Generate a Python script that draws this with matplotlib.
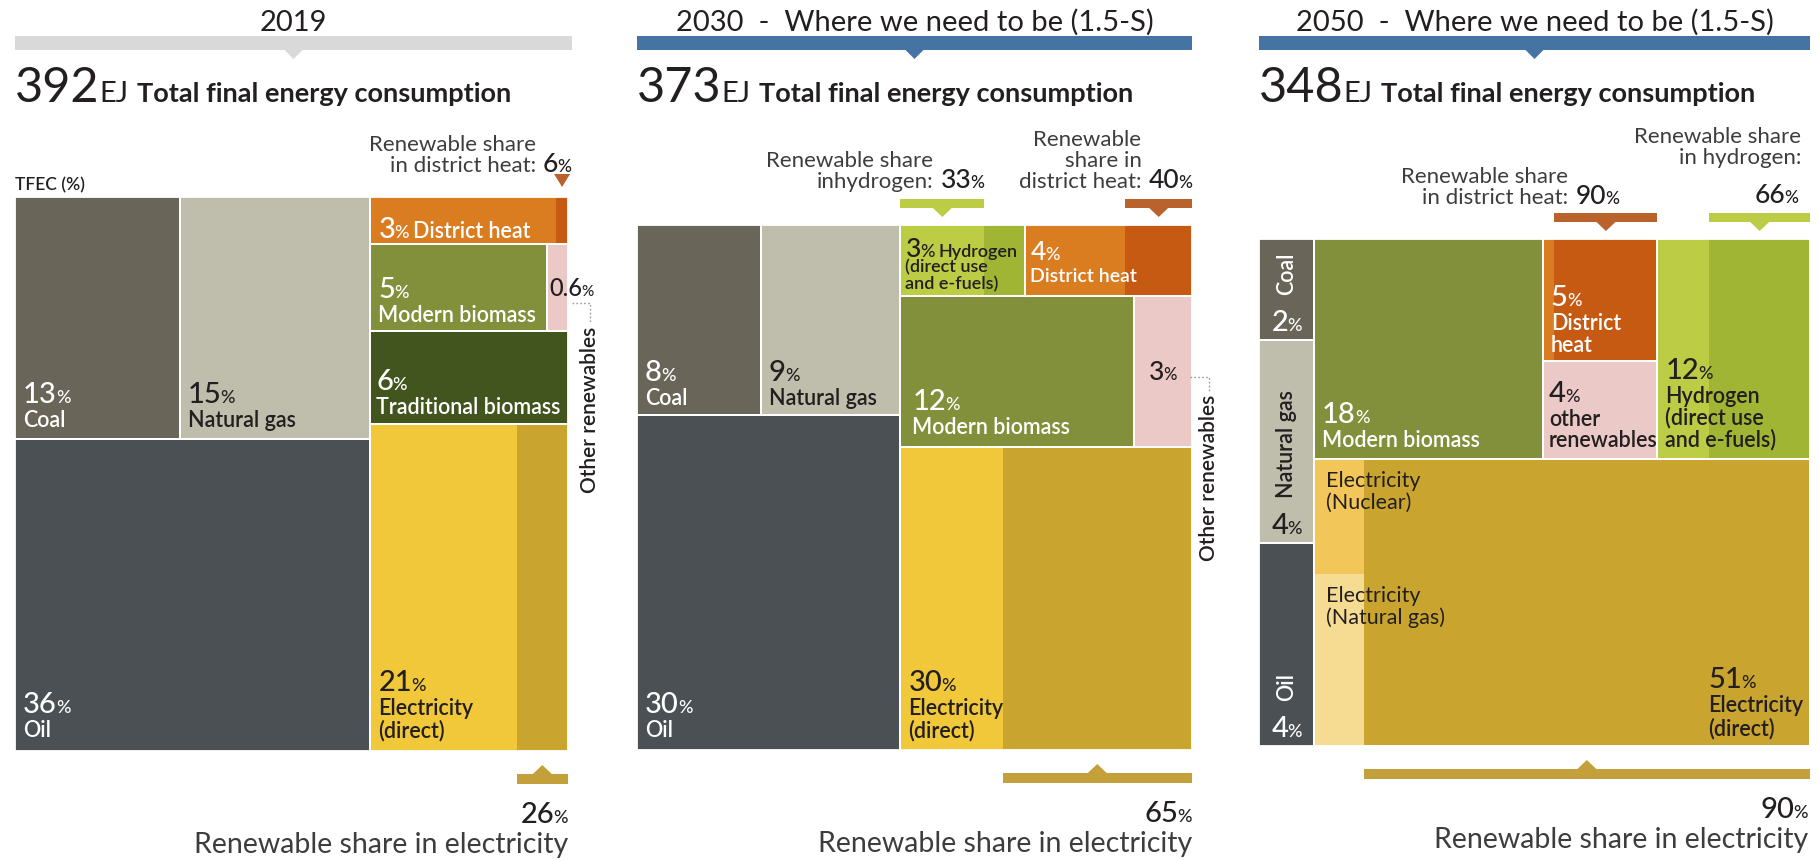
import matplotlib
matplotlib.use("Agg")
import matplotlib.pyplot as plt
from matplotlib.patches import Rectangle, Polygon

plt.rcParams["font.family"] = ["Lato", "DejaVu Sans"]

# ---- shares of total final energy consumption (%) ----
panel_titles = ["2019", "2030  -  Where we need to be (1.5-S)",
                "2050  -  Where we need to be (1.5-S)"]
tfec_ej = [392, 373, 348]

cats_2019 = ["Coal", "Natural gas", "Oil", "District heat", "Modern biomass",
             "Other renewables", "Traditional biomass", "Electricity"]
vals_2019 = [13, 15, 36, 3, 5, 0.6, 6, 21]

cats_2030 = ["Coal", "Natural gas", "Oil", "Hydrogen", "District heat",
             "Modern biomass", "Other renewables", "Electricity"]
vals_2030 = [8, 9, 30, 3, 4, 12, 3, 30]

cats_2050 = ["Coal", "Natural gas", "Oil", "Modern biomass", "District heat",
             "Other renewables", "Hydrogen", "Electricity"]
vals_2050 = [2, 4, 4, 18, 5, 4, 12, 51]

# renewable share inside a carrier (%)
ren_district_heat = [6, 40, 90]
ren_hydrogen = [None, 33, 66]
ren_electricity = [26, 65, 90]

# non-renewable electricity in 2050, split by source (% of that part)
elec_sources_2050 = ["Nuclear", "Natural gas"]
elec_split_2050 = [40, 60]

# slicing structure of each treemap: "h" = side by side, "v" = stacked
tree_2019 = ("h", [("v", [("h", ["Coal", "Natural gas"]), "Oil"]),
                   ("v", ["District heat", ("h", ["Modern biomass", "Other renewables"]),
                          "Traditional biomass", "Electricity"])])
tree_2030 = ("h", [("v", [("h", ["Coal", "Natural gas"]), "Oil"]),
                   ("v", [("h", ["Hydrogen", "District heat"]),
                          ("h", ["Modern biomass", "Other renewables"]), "Electricity"])])
tree_2050 = ("h", [("v", ["Coal", "Natural gas", "Oil"]),
                   ("v", [("h", ["Modern biomass", ("v", ["District heat", "Other renewables"]),
                                 "Hydrogen"]), "Electricity"])])

colors = {"Coal": "#6a6559", "Natural gas": "#bfbdab", "Oil": "#4b5054",
          "District heat": "#da7d21", "Modern biomass": "#82903b",
          "Other renewables": "#ebc9c7", "Traditional biomass": "#43551f",
          "Electricity": "#f0c83a", "Hydrogen": "#bccc45"}
ren_colors = {"District heat": "#c75a12", "Hydrogen": "#a0b533", "Electricity": "#c9a530"}
elec_src_colors = ["#f3c65a", "#f6dc93"]
bracket_colors = {"District heat": "#b9622b", "Hydrogen": "#bccd45", "Electricity": "#c4a03b"}

WHITE = "#ffffff"
DARK = "#231f20"
GREY = "#3d3d3d"

fig = plt.figure(figsize=(18.19, 8.62), dpi=100)
ax = fig.add_axes([0, 0, 1, 1])
ax.set_xlim(0, 1819)
ax.set_ylim(862, 0)
ax.axis("off")
renderer = fig.canvas.get_renderer()


def width_of(t):
    return t.get_window_extent(renderer).width


def node_total(node, vals):
    if isinstance(node, str):
        return vals[node]
    return sum(node_total(k, vals) for k in node[1])


def slice_layout(node, x, y, w, h, vals, out):
    if isinstance(node, str):
        out[node] = (x, y, w, h)
        return out
    direction, kids = node
    tot = node_total(node, vals)
    pos = 0.0
    for k in kids:
        f = node_total(k, vals) / tot
        if direction == "h":
            slice_layout(k, x + pos * w, y, f * w, h, vals, out)
        else:
            slice_layout(k, x, y + pos * h, w, f * h, vals, out)
        pos += f
    return out


def pct_text(x, y, value, color, size=21, psize=13, ha="left", weight="medium"):
    num = ax.text(x, y, f"{value:g}", size=size, color=color, fontweight=weight, va="baseline")
    pct = ax.text(x, y, "%", size=psize, color=color, fontweight=weight, va="baseline")
    wn, wp = width_of(num), width_of(pct)
    total = wn - 1 + wp
    if ha == "right":
        left = x - total
    elif ha == "center":
        left = x - total / 2
    else:
        left = x
    num.set_x(left)
    pct.set_x(left + wn - 1)
    return left, left + total


def block_label(r, value, lines, color, dx=8, pad=13, step=22, gap=24,
                size=21, lsize=15.5, inline=None, inline_size=None):
    x, y, w, h = r
    base = y + h - pad
    for i, line in enumerate(reversed(lines)):
        ax.text(x + dx, base - i * step, line, size=lsize, color=color,
                fontweight="semibold", va="baseline")
    nb = base - (len(lines) - 1) * step - gap if lines else base
    _, end = pct_text(x + dx, nb, value, color, size=size)
    if inline:
        ax.text(end + 4, nb, inline, size=inline_size or lsize, color=color,
                fontweight="semibold", va="baseline")


def header(x0, x1, title, color, ej):
    cx = (x0 + x1) / 2
    ax.add_patch(Rectangle((x0, 37), x1 - x0, 14, fc=color, lw=0))
    ax.add_patch(Polygon([(cx - 10, 50), (cx + 10, 50), (cx, 60)], closed=True, fc=color, lw=0))
    ax.text(cx, 31, title, size=21, ha="center", va="baseline", color=DARK)
    t1 = ax.text(x0, 102, str(ej), size=35, va="baseline", color=DARK)
    x = x0 + width_of(t1)
    t2 = ax.text(x, 102, "EJ", size=21, va="baseline", color=DARK)
    x += width_of(t2) + 8
    ax.text(x, 102, "Total final energy consumption", size=19.5, fontweight="bold",
            va="baseline", color=DARK)


def draw_treemap(cats, vals, tree, box, i):
    x0, y0, x1, y1 = box
    v = dict(zip(cats, vals))
    r = slice_layout(tree, x0, y0, x1 - x0, y1 - y0, v, {})
    for c in cats:
        x, y, w, h = r[c]
        ax.add_patch(Rectangle((x, y), w, h, fc=colors[c], lw=0))
    strips = {}
    shares = {"District heat": ren_district_heat[i], "Hydrogen": ren_hydrogen[i],
              "Electricity": ren_electricity[i]}
    for c, s in shares.items():
        if s is None or c not in r:
            continue
        x, y, w, h = r[c]
        xs = x + w * (1 - s / 100)
        ax.add_patch(Rectangle((xs, y), x + w - xs, h, fc=ren_colors[c], lw=0))
        strips[c] = (x, xs, x + w)
    for c in cats:
        x, y, w, h = r[c]
        ax.add_patch(Rectangle((x, y), w, h, fill=False, ec=WHITE, lw=1.3))
    return r, strips


def bracket_below(xa, xb, edge, color):
    cx = (xa + xb) / 2
    top = edge + 23
    ax.add_patch(Rectangle((xa, top), xb - xa, 10, fc=color, lw=0))
    ax.add_patch(Polygon([(cx - 10, top + 0.5), (cx + 10, top + 0.5), (cx, edge + 14)],
                         closed=True, fc=color, lw=0))


def bracket_above(xa, xb, edge, color, bar=True):
    cx = (xa + xb) / 2
    bot = edge - 17
    if bar:
        ax.add_patch(Rectangle((xa, bot - 9), xb - xa, 9, fc=color, lw=0))
        ax.add_patch(Polygon([(cx - 10, bot - 0.5), (cx + 10, bot - 0.5), (cx, edge - 8)],
                             closed=True, fc=color, lw=0))
    else:
        ax.add_patch(Polygon([(cx - 8, bot - 6), (cx + 8, bot - 6), (cx, edge - 10)],
                             closed=True, fc=color, lw=0))


def callout_side(num_x, baseline, value, lines, ha="right", size=19):
    left, _ = pct_text(num_x, baseline, value, DARK, size=size, psize=12.5, ha=ha)
    for i, line in enumerate(reversed(lines)):
        ax.text(left - 7, baseline - i * 21, line, size=16, color=GREY,
                ha="right", va="baseline")


def renewable_electricity(x_right, edge, value):
    pct_text(x_right, edge + 71, value, DARK, size=21, psize=13, ha="right")
    ax.text(x_right, edge + 101, "Renewable share in electricity", size=20.5,
            color=GREY, ha="right", va="baseline")


def other_renewables(x, y_top):
    ax.text(x, y_top, "Other renewables", size=15, rotation=90, ha="center", va="top",
            color=DARK, fontweight="semibold")


dotted = dict(color="#9a9a9a", lw=1.0, ls=(0, (1.2, 1.6)))

# ---------------- 2019 ----------------
box = (15, 198, 568, 752)
header(15, 572, panel_titles[0], "#d9d9d9", tfec_ej[0])
r, st = draw_treemap(cats_2019, vals_2019, tree_2019, box, 0)
v = dict(zip(cats_2019, vals_2019))
ax.text(15, 190, "TFEC (%)", size=12.5, fontweight="semibold", color=DARK, va="baseline")
block_label(r["Coal"], v["Coal"], ["Coal"], WHITE)
block_label(r["Natural gas"], v["Natural gas"], ["Natural gas"], DARK)
block_label(r["Oil"], v["Oil"], ["Oil"], WHITE, pad=15)
block_label(r["Electricity"], v["Electricity"], ["Electricity", "(direct)"], DARK, pad=15)
block_label(r["District heat"], v["District heat"], [], WHITE, pad=7,
            inline="District heat")
block_label(r["Modern biomass"], v["Modern biomass"], ["Modern biomass"], WHITE, pad=10)
block_label(r["Traditional biomass"], v["Traditional biomass"], ["Traditional biomass"], WHITE,
            pad=11, dx=6)
x, y, w, h = r["Other renewables"]
pct_text(x + w + 3, y + h / 2 + 8, v["Other renewables"], DARK, size=17, psize=11, ha="center")
ax.plot([x + w + 4, x + w + 22, x + w + 22], [y + h / 2 + 16, y + h / 2 + 16, y + h / 2 + 36],
        **dotted)
other_renewables(x + w + 22, y + h / 2 + 38)
xa, xs, xb = st["District heat"]
bracket_above(xs, xb, box[1], bracket_colors["District heat"], bar=False)
callout_side(xb + 3, box[1] - 26, ren_district_heat[0], ["Renewable share", "in district heat:"])
xa, xs, xb = st["Electricity"]
bracket_below(xs, xb, box[3], bracket_colors["Electricity"])
renewable_electricity(xb, box[3], ren_electricity[0])

# ---------------- 2030 ----------------
box = (637, 226, 1192, 751)
header(637, 1192, panel_titles[1], "#4574a4", tfec_ej[1])
r, st = draw_treemap(cats_2030, vals_2030, tree_2030, box, 1)
v = dict(zip(cats_2030, vals_2030))
block_label(r["Coal"], v["Coal"], ["Coal"], WHITE, pad=11)
block_label(r["Natural gas"], v["Natural gas"], ["Natural gas"], DARK, pad=11)
block_label(r["Oil"], v["Oil"], ["Oil"], WHITE, pad=14)
block_label(r["Electricity"], v["Electricity"], ["Electricity", "(direct)"], DARK, pad=14)
block_label(r["Modern biomass"], v["Modern biomass"], ["Modern biomass"], WHITE, dx=12, pad=14)
block_label(r["District heat"], v["District heat"], ["District heat"], WHITE, dx=5, pad=15,
            size=19, lsize=14, gap=22)
block_label(r["Hydrogen"], v["Hydrogen"], ["(direct use", "and e-fuels)"], DARK, dx=5, pad=7,
            size=19, lsize=13, step=17, gap=16, inline="Hydrogen")
x, y, w, h = r["Other renewables"]
pct_text(x + w / 2, y + h / 2 + 8, v["Other renewables"], DARK, size=19, psize=12, ha="center")
ax.plot([x + w - 2, x + w + 17, x + w + 17], [y + h / 2 + 6, y + h / 2 + 6, y + h / 2 + 20],
        **dotted)
other_renewables(x + w + 17, y + h / 2 + 22)
xa, xs, xb = st["Hydrogen"]
bracket_above(xa, xs, box[1], bracket_colors["Hydrogen"])
callout_side(xs, box[1] - 38, ren_hydrogen[1], ["Renewable share", "inhydrogen:"])
xa, xs, xb = st["District heat"]
bracket_above(xs, xb, box[1], bracket_colors["District heat"])
callout_side(xb, box[1] - 38, ren_district_heat[1], ["Renewable", "share in", "district heat:"])
xa, xs, xb = st["Electricity"]
bracket_below(xs, xb, box[3], bracket_colors["Electricity"])
renewable_electricity(xb, box[3], ren_electricity[1])

# ---------------- 2050 ----------------
box = (1259, 240, 1810, 747)
header(1259, 1810, panel_titles[2], "#4574a4", tfec_ej[2])
r, st = draw_treemap(cats_2050, vals_2050, tree_2050, box, 2)
v = dict(zip(cats_2050, vals_2050))

# non-renewable electricity split into nuclear and natural gas
xa, xs, xb = st["Electricity"]
x, y, w, h = r["Electricity"]
yy = y
for src, part, col in zip(elec_sources_2050, elec_split_2050, elec_src_colors):
    hh = h * part / sum(elec_split_2050)
    ax.add_patch(Rectangle((xa, yy), xs - xa, hh, fc=col, lw=0))
    ax.text(xa + 12, yy + 27, "Electricity", size=15.5, color=DARK, va="baseline")
    ax.text(xa + 12, yy + 49, f"({src})", size=15.5, color=DARK, va="baseline")
    yy += hh
ax.add_patch(Rectangle((x, y), w, h, fill=False, ec=WHITE, lw=1.3))

for c, col in [("Coal", WHITE), ("Natural gas", DARK), ("Oil", WHITE)]:
    x, y, w, h = r[c]
    nb = y + h - 10
    pct_text(x + w / 2, nb, v[c], col, size=21, psize=13, ha="center")
    ax.text(x + w / 2, nb - 36, c, size=15.5, rotation=90, ha="center", va="bottom",
            color=col, fontweight="semibold")

block_label(r["Modern biomass"], v["Modern biomass"], ["Modern biomass"], WHITE, pad=13)
block_label(r["District heat"], v["District heat"], ["District", "heat"], WHITE, pad=10)
block_label(r["Other renewables"], v["Other renewables"], ["other", "renewables"], DARK,
            pad=13, step=21, dx=6)
block_label(r["Hydrogen"], v["Hydrogen"], ["Hydrogen", "(direct use", "and e-fuels)"], DARK,
            pad=13)
x, y, w, h = r["Electricity"]
block_label((x + w - 102, y, 102, h), v["Electricity"], ["Electricity", "(direct)"], DARK,
            dx=0, pad=12, step=23)

xa, xs, xb = st["District heat"]
bracket_above(xs, xb, box[1], bracket_colors["District heat"])
callout_side(xs + 21, box[1] - 36, ren_district_heat[2],
             ["Renewable share", "in district heat:"], ha="left")
xa, xs, xb = st["Hydrogen"]
bracket_above(xs, xb, box[1], bracket_colors["Hydrogen"])
pct_text(xb - 12, box[1] - 37, ren_hydrogen[2], DARK, size=19, psize=12.5, ha="right")
ax.text(xb - 9, box[1] - 97, "Renewable share", size=16, color=GREY, ha="right", va="baseline")
ax.text(xb - 9, box[1] - 76, "in hydrogen:", size=16, color=GREY, ha="right", va="baseline")
xa, xs, xb = st["Electricity"]
bracket_below(xs, xb, box[3], bracket_colors["Electricity"])
renewable_electricity(xb - 2, box[3], ren_electricity[2])

fig.savefig("out.png", dpi=100)
